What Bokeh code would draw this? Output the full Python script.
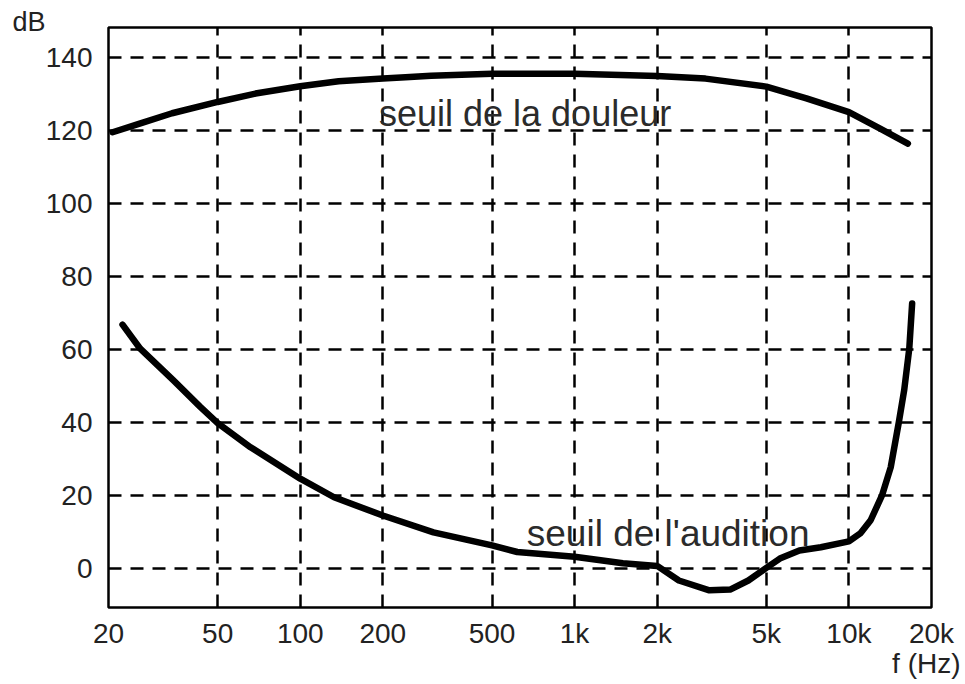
from bokeh.plotting import figure
from bokeh.models import Range1d, FixedTicker, Label, Title
from bokeh.embed import file_html
from bokeh.resources import INLINE

# ---- data ----
freq_ticks = [20, 50, 100, 200, 500, 1000, 2000, 5000, 10000, 20000]
freq_labels = ["20", "50", "100", "200", "500", "1k", "2k", "5k", "10k", "20k"]
db_ticks = [0, 20, 40, 60, 80, 100, 120, 140]
db_labels = ["0", "20", "40", "60", "80", "100", "120", "140"]

# seuil de la douleur (threshold of pain)
pain_f = [20.7, 25.8, 34.1, 50, 68.7, 100, 138, 200, 242, 300, 500, 1000,
          2000, 3000, 5000, 7000, 10000, 13000, 16400]
pain_db = [119.5, 121.8, 124.7, 127.8, 130.1, 132.1, 133.5, 134.2, 134.6,
           135.0, 135.5, 135.5, 134.9, 134.2, 132.0, 128.8, 125.0, 120.5, 116.4]

# seuil de l'audition (threshold of hearing)
hear_f = [22.5, 26.1, 34.5, 43.3, 50, 65.9, 100, 132.8, 200, 306, 500, 618,
          1000, 1500, 2000, 2400, 3100, 3690, 4300, 4970, 5600, 6600, 7900,
          10000, 11000, 12000, 13200, 14200, 15200, 15900, 16600, 17000]
hear_db = [66.8, 60.2, 51.5, 44.2, 39.8, 33.2, 24.6, 19.5, 14.5, 9.9, 6.3,
           4.5, 3.2, 1.4, 0.7, -3.3, -6.0, -5.8, -3.3, 0.0, 2.7, 4.9, 5.8,
           7.4, 9.6, 13.2, 20.0, 27.7, 40.0, 48.8, 60.3, 72.6]

TXT = "#222222"
FONT = "Liberation Sans"

p = figure(width=962, height=682, x_axis_type="log",
           x_range=Range1d(20, 20000), y_range=Range1d(-10.7, 148.2),
           output_backend="svg", toolbar_location=None,
           min_border_left=108, min_border_top=27,
           min_border_right=31, min_border_bottom=75)

p.background_fill_color = "white"
p.border_fill_color = "white"
p.outline_line_color = "black"
p.outline_line_width = 2.5
p.outline_line_alpha = 1.0

# axes
p.xaxis.ticker = FixedTicker(ticks=freq_ticks)
p.xaxis.major_label_overrides = {t: l for t, l in zip(freq_ticks, freq_labels)}
p.yaxis.ticker = FixedTicker(ticks=db_ticks)
p.yaxis.major_label_overrides = {t: l for t, l in zip(db_ticks, db_labels)}
for ax in (p.xaxis, p.yaxis):
    ax.axis_line_color = None
    ax.major_tick_line_color = None
    ax.minor_tick_line_color = None
    ax.major_label_text_font = FONT
    ax.major_label_text_font_size = "28px"
    ax.major_label_text_color = TXT
p.xaxis.major_label_standoff = 4
p.yaxis.major_label_standoff = 10

# grid
p.xgrid.ticker = FixedTicker(ticks=freq_ticks)
p.ygrid.ticker = FixedTicker(ticks=db_ticks)
for g in (p.xgrid, p.ygrid):
    g.grid_line_color = "black"
    g.grid_line_width = 2.5
    g.grid_line_dash = "13 9"
    g.grid_line_alpha = 1.0

# curves
p.line(pain_f, pain_db, line_width=6.5, color="black",
       line_cap="round", line_join="round")
p.line(hear_f, hear_db, line_width=6.5, color="black",
       line_cap="round", line_join="round")

# curve labels
p.add_layout(Label(x=660, y=124.7, text="seuil de la douleur",
                   text_align="center", text_baseline="alphabetic",
                   text_font=FONT, text_font_size="36px", text_color="#2b2b2b"))
p.add_layout(Label(x=2193, y=9.6, text="seuil de l'audition",
                   text_align="center", text_baseline="alphabetic",
                   text_font=FONT, text_font_size="37px", text_color="#2b2b2b"))

# axis titles
p.title.text = "dB"
p.title.align = "left"
p.title.offset = -96
p.title.vertical_align = "bottom"
p.title.standoff = -18
p.title.text_font = FONT
p.title.text_font_size = "27px"
p.title.text_font_style = "normal"
p.title.text_color = TXT

p.add_layout(Title(text="f (Hz)", align="right", offset=-29,
                   vertical_align="top", standoff=-8,
                   text_font=FONT, text_font_size="28px",
                   text_font_style="normal", text_color=TXT), "below")

open("out.html", "w").write(file_html(p, INLINE))
